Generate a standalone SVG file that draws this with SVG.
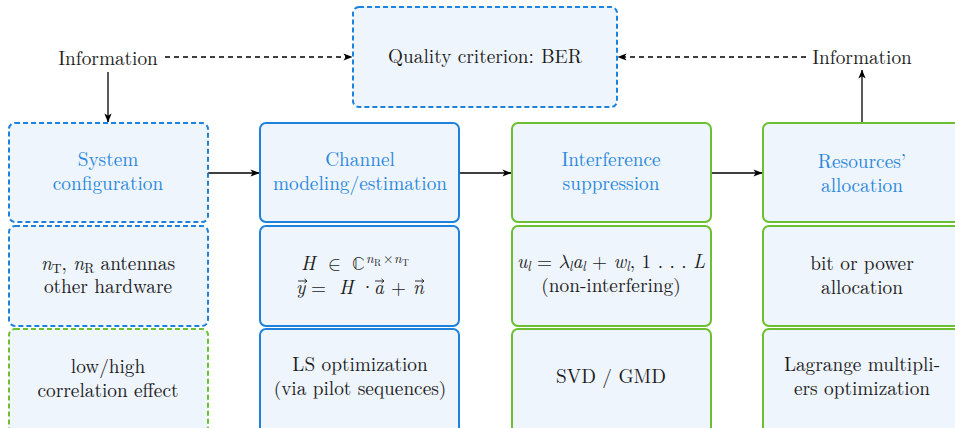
<svg xmlns="http://www.w3.org/2000/svg" width="955" height="428" viewBox="0 0 955 428" font-family="Latin Modern Roman, serif">
<style>
text{font-family:Latin Modern Roman, serif;font-size:19.3px;fill:#1c1c1c;text-anchor:middle}
.t{fill:#2a88dc}
.m{text-anchor:start}
.mm{font-family:Latin Modern Math, DejaVu Serif, serif}
.box{fill:#eff5fd;stroke-width:2}
.b{stroke:#1e82dc}
.g{stroke:#6cbf30}
.d{stroke-dasharray:5 3}
.c{stroke:#000;stroke-width:1.3;fill:none}
.cd{stroke-dasharray:5 4}
.i{font-style:italic}
.s{font-size:13.5px}
.ss{font-size:9.6px}
.vec{stroke:#1c1c1c;stroke-width:0.9;fill:none}
</style>
<defs>
<marker id="ah" viewBox="0 0 10 8" refX="9.5" refY="4" markerWidth="9" markerHeight="7.2" markerUnits="userSpaceOnUse" orient="auto">
<path d="M0,0 L10,4 L0,8 L2.5,4 z" fill="#000"/>
</marker>
</defs>
<g id="connectors">
<line class="c cd" x1="165" y1="57" x2="352" y2="57" marker-end="url(#ah)"/>
<line class="c" x1="108" y1="72" x2="108" y2="122" marker-end="url(#ah)"/>
<line class="c cd" x1="806" y1="57" x2="618" y2="57" marker-end="url(#ah)"/>
<line class="c" x1="862" y1="122" x2="862" y2="70" marker-end="url(#ah)"/>
<line class="c" x1="208" y1="173" x2="259" y2="173" marker-end="url(#ah)"/>
<line class="c" x1="460" y1="173" x2="511" y2="173" marker-end="url(#ah)"/>
<line class="c" x1="711" y1="173" x2="762" y2="173" marker-end="url(#ah)"/>
</g>
<g id="info-left"><text x="108" y="65">Information</text></g>
<g id="info-right"><text x="862" y="64">Information</text></g>
<g id="quality">
<rect class="box b d" x="353" y="7" width="264" height="100" rx="6"/>
<text x="485" y="63">Quality criterion:<tspan dx="7">BER</tspan></text>
</g>
<g id="sys-config">
<rect class="box b d" x="9" y="123" width="199" height="99" rx="6"/>
<text class="t" x="108" y="166">System</text>
<text class="t" x="108" y="190">configuration</text>
</g>
<g id="sys-antennas">
<rect class="box b d" x="9" y="226" width="199" height="100" rx="6"/>
<text x="108" y="270"><tspan class="i">n</tspan><tspan class="s" dy="3">T</tspan><tspan dy="-3">, </tspan><tspan class="i">n</tspan><tspan class="s" dy="3">R</tspan><tspan dy="-3"> antennas</tspan></text>
<text x="108" y="293">other hardware</text>
</g>
<g id="sys-correlation">
<rect class="box g d" x="9" y="329" width="199" height="104" rx="6"/>
<text x="108" y="373">low/high</text>
<text x="108" y="397">correlation effect</text>
</g>
<g id="channel">
<rect class="box b" x="260" y="123" width="199" height="99" rx="6"/>
<text class="t" x="360" y="166">Channel</text>
<text class="t" x="360" y="190">modeling/estimation</text>
</g>
<g id="channel-model">
<rect class="box b" x="260" y="226" width="199" height="100" rx="6"/>
<text class="m" y="270"><tspan class="i" x="301">H</tspan><tspan class="mm" x="328">∈</tspan><tspan class="mm" x="352">ℂ</tspan><tspan class="s i" x="366" y="263">n</tspan><tspan class="ss" x="374" y="266">R</tspan><tspan class="s" x="383" y="263">×</tspan><tspan class="s i" x="394" y="263">n</tspan><tspan class="ss" x="402" y="266">T</tspan></text>
<text class="m" y="294"><tspan class="i" x="296">y</tspan><tspan x="311">=</tspan><tspan class="i" x="339">H</tspan><tspan x="360">·</tspan><tspan class="i" x="374">a</tspan><tspan x="391">+</tspan><tspan class="i" x="413">n</tspan></text>
<path class="vec" d="M298,281 h9 m-2.5,-2 l2.5,2 l-2.5,2"/>
<path class="vec" d="M375,281 h9 m-2.5,-2 l2.5,2 l-2.5,2"/>
<path class="vec" d="M415,281 h9 m-2.5,-2 l2.5,2 l-2.5,2"/>
</g>
<g id="channel-ls">
<rect class="box b" x="260" y="329" width="199" height="104" rx="6"/>
<text x="360" y="371">LS optimization</text>
<text x="360" y="395">(via pilot sequences)</text>
</g>
<g id="interference">
<rect class="box g" x="512" y="123" width="199" height="99" rx="6"/>
<text class="t" x="611" y="166">Interference</text>
<text class="t" x="611" y="190">suppression</text>
</g>
<g id="interference-eq">
<rect class="box g" x="512" y="226" width="199" height="100" rx="6"/>
<text x="611" y="268"><tspan class="i">u</tspan><tspan class="s i" dy="3">l</tspan><tspan dy="-3"> = </tspan><tspan class="i mm">λ</tspan><tspan class="s i" dy="3">l</tspan><tspan class="i" dy="-3">a</tspan><tspan class="s i" dy="3">l</tspan><tspan dy="-3"> + </tspan><tspan class="i">w</tspan><tspan class="s i" dy="3">l</tspan><tspan dy="-3">, 1 . . . </tspan><tspan class="i">L</tspan></text>
<text x="611" y="292">(non-interfering)</text>
</g>
<g id="interference-svd">
<rect class="box g" x="512" y="329" width="199" height="104" rx="6"/>
<text x="611" y="383">SVD / GMD</text>
</g>
<g id="resources">
<rect class="box g" x="763" y="123" width="199" height="99" rx="6"/>
<text class="t" x="862" y="168">Resources’</text>
<text class="t" x="862" y="192">allocation</text>
</g>
<g id="resources-alloc">
<rect class="box g" x="763" y="226" width="199" height="100" rx="6"/>
<text x="862" y="270">bit or power</text>
<text x="862" y="294">allocation</text>
</g>
<g id="resources-lagrange">
<rect class="box g" x="763" y="329" width="199" height="104" rx="6"/>
<text x="862" y="371">Lagrange multipli-</text>
<text x="862" y="395">ers optimization</text>
</g>
</svg>
